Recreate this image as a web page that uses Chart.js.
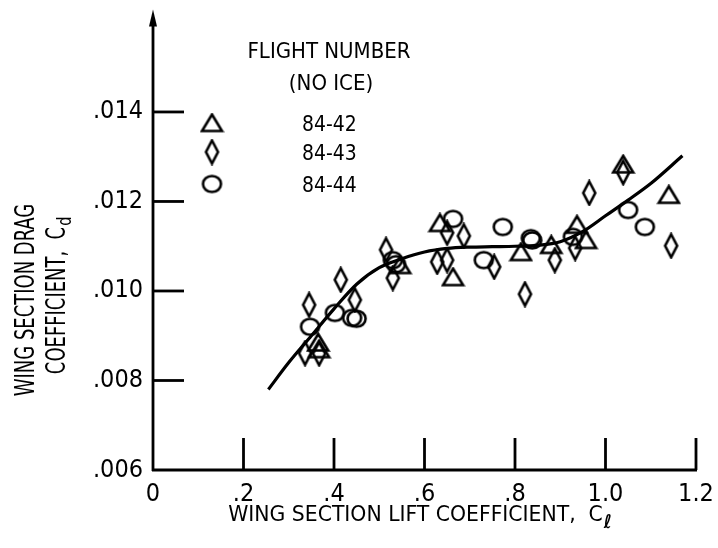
<!DOCTYPE html>
<html>
<head>
<meta charset="utf-8">
<script src="https://cdn.jsdelivr.net/npm/chart.js@4/dist/chart.umd.min.js"></script>
<style>
  html, body { margin: 0; padding: 0; background: #fff; }
  #wrap { width: 718px; height: 548px; position: relative; }
</style>
</head>
<body>
<div id="wrap"><canvas id="c" width="718" height="548"></canvas></div>
<script>
// ---- data ----
const xTicks = [0, 0.2, 0.4, 0.6, 0.8, 1.0, 1.2];
const xTickLabels = ["0", ".2", ".4", ".6", ".8", "1.0", "1.2"];
const yTicks = [0.006, 0.008, 0.010, 0.012, 0.014];
const yTickLabels = [".006", ".008", ".010", ".012", ".014"];

const legendTitle = ["FLIGHT NUMBER", "(NO ICE)"];
const flightNames = ["84-42", "84-43", "84-44"];

// Flight 84-42 (triangles)
const f42_cl = [0.365, 0.367, 0.546, 0.634, 0.663, 0.813, 0.880, 0.937, 0.957, 1.039, 1.140];
const f42_cd = [0.00885, 0.00870, 0.01058, 0.01152, 0.01031, 0.01087, 0.01103, 0.01148, 0.01114, 0.01283, 0.01215];

// Flight 84-43 (diamonds)
const f43_cl = [0.336, 0.345, 0.367, 0.415, 0.446, 0.515, 0.530, 0.628, 0.650, 0.650, 0.687, 0.754, 0.822, 0.888, 0.933, 0.964, 1.039, 1.145];
const f43_cd = [0.00861, 0.00969, 0.00860, 0.01025, 0.00980, 0.01092, 0.01029, 0.01065, 0.01069, 0.01130, 0.01123, 0.01054, 0.00993, 0.01069, 0.01096, 0.01219, 0.01265, 0.01101];

// Flight 84-44 (circles)
const f44_cl = [0.347, 0.402, 0.440, 0.450, 0.530, 0.537, 0.663, 0.731, 0.773, 0.835, 0.838, 0.928, 1.050, 1.087];
const f44_cd = [0.00920, 0.00951, 0.00940, 0.00938, 0.01069, 0.01060, 0.01161, 0.01069, 0.01143, 0.01118, 0.01113, 0.01121, 0.01181, 0.01143];

// Faired curve
const fit_cl = [0.255, 0.30, 0.35, 0.40, 0.45, 0.50, 0.55, 0.60, 0.65, 0.70, 0.75, 0.80, 0.85, 0.90, 0.95, 1.00, 1.05, 1.10, 1.17];
const fit_cd = [0.00780, 0.00840, 0.00900, 0.00960, 0.01015, 0.01052, 0.01072, 0.01087, 0.01095, 0.01098, 0.01099, 0.01100, 0.01102, 0.01110, 0.01133, 0.01168, 0.01203, 0.01240, 0.01302];

// ---- helpers ----
const zip = (xs, ys) => xs.map((x, i) => ({x: x, y: ys[i]}));
const FONT = "'DejaVu Sans Condensed', 'Liberation Sans Narrow', sans-serif";
const LW = 2.6;

function makeMarker(kind) {
  const c = document.createElement('canvas');
  let w, h;
  if (kind === 'tri') { w = 25; h = 21; }
  else if (kind === 'dia') { w = 17; h = 27; }
  else { w = 23; h = 21; }
  c.width = w; c.height = h;
  const g = c.getContext('2d');
  g.strokeStyle = '#000'; g.lineWidth = LW; g.lineJoin = 'miter';
  g.beginPath();
  if (kind === 'tri') {
    g.moveTo(w / 2, 2); g.lineTo(w - 2.5, h - 2.5); g.lineTo(2.5, h - 2.5); g.closePath();
  } else if (kind === 'dia') {
    g.moveTo(w / 2, 2); g.lineTo(w - 2.5, h / 2); g.lineTo(w / 2, h - 2); g.lineTo(2.5, h / 2); g.closePath();
  } else {
    g.ellipse(w / 2, h / 2, w / 2 - 2.5, h / 2 - 2.5, 0, 0, Math.PI * 2);
  }
  g.stroke();
  return c;
}
const mTri = makeMarker('tri');
const mDia = makeMarker('dia');
const mCir = makeMarker('cir');

function text(ctx, str, x, y, font, align, sx) {
  ctx.save();
  ctx.font = font;
  ctx.translate(x, y);
  ctx.scale(sx || 1, 1);
  ctx.textAlign = align || 'left';
  ctx.fillText(str, 0, 0);
  const w = ctx.measureText(str).width * (sx || 1);
  ctx.restore();
  return w;
}

// ---- custom drawing: axes, ticks, arrow, titles, legend ----
const decor = {
  id: 'decor',
  afterDraw(chart) {
    const ctx = chart.ctx;
    const xs = chart.scales.x, ys = chart.scales.y;
    const x0 = xs.getPixelForValue(0);
    const y0 = ys.getPixelForValue(0.006);
    const top = ys.getPixelForValue(0.0162) - 4;
    ctx.save();
    ctx.strokeStyle = '#000'; ctx.fillStyle = '#000';
    ctx.lineWidth = 2.8; ctx.lineCap = 'butt';
    // y axis with arrow
    ctx.beginPath(); ctx.moveTo(x0, y0 + 1); ctx.lineTo(x0, top + 12); ctx.stroke();
    ctx.beginPath(); ctx.moveTo(x0, top); ctx.lineTo(x0 + 4, top + 17); ctx.lineTo(x0 - 4, top + 17); ctx.closePath(); ctx.fill();
    // x axis
    ctx.beginPath(); ctx.moveTo(x0 - 1, y0); ctx.lineTo(xs.getPixelForValue(1.2) + 1, y0); ctx.stroke();
    // y ticks (inward)
    yTicks.slice(1).forEach(v => {
      const p = ys.getPixelForValue(v);
      ctx.beginPath(); ctx.moveTo(x0, p); ctx.lineTo(x0 + 31, p); ctx.stroke();
    });
    // x ticks (inward)
    xTicks.slice(1).forEach(v => {
      const p = xs.getPixelForValue(v);
      ctx.beginPath(); ctx.moveTo(p, y0); ctx.lineTo(p, y0 - 32); ctx.stroke();
    });

    ctx.textBaseline = 'alphabetic';
    // x axis title
    const xt = 'WING SECTION LIFT COEFFICIENT,  C';
    ctx.font = '22px ' + FONT;
    const xtw = ctx.measureText(xt).width * 1.03;
    const xtx = 420 - (xtw + 9) / 2;
    text(ctx, xt, xtx, 521, '22px ' + FONT, 'left', 1.03);
    text(ctx, '\u2113', xtx + xtw + 1, 528, 'italic bold 19px ' + FONT, 'left', 1);

    // y axis title (rotated, two lines)
    ctx.save();
    ctx.translate(34, 300);
    ctx.rotate(-Math.PI / 2);
    text(ctx, 'WING SECTION DRAG', 0, 0, '27px ' + FONT, 'center', 0.74);
    ctx.restore();
    ctx.save();
    ctx.translate(65, 296);
    ctx.rotate(-Math.PI / 2);
    ctx.font = '27px ' + FONT;
    const yt = 'COEFFICIENT,  C';
    const ytw = ctx.measureText(yt).width * 0.74;
    const ytx = -(ytw + 9) / 2;
    text(ctx, yt, ytx, 0, '27px ' + FONT, 'left', 0.74);
    text(ctx, 'd', ytx + ytw + 1, 6, '19px ' + FONT, 'left', 0.85);
    ctx.restore();

    // legend
    text(ctx, legendTitle[0], 329, 58, '22px ' + FONT, 'center', 1);
    text(ctx, legendTitle[1], 331, 90, '22px ' + FONT, 'center', 1);
    const marks = [mTri, mDia, mCir];
    const ly = [123, 152, 184];
    flightNames.forEach((n, i) => {
      const m = marks[i];
      ctx.drawImage(m, 212 - m.width / 2, ly[i] - m.height / 2);
      text(ctx, n, 302, ly[i] + 8, '22px ' + FONT, 'left', 0.95);
    });
    ctx.restore();
  }
};

const layoutPadding = { top: 13.5, right: 22, left: 0, bottom: 0 };

const chart = new Chart(document.getElementById('c'), {
  type: 'scatter',
  data: {
    datasets: [
      { label: 'curve', data: zip(fit_cl, fit_cd), showLine: true, borderColor: '#000', borderWidth: 3.2,
        pointRadius: 0, cubicInterpolationMode: 'monotone', fill: false },
      { label: flightNames[0], data: zip(f42_cl, f42_cd), pointStyle: mTri, showLine: false },
      { label: flightNames[1], data: zip(f43_cl, f43_cd), pointStyle: mDia, showLine: false },
      { label: flightNames[2], data: zip(f44_cl, f44_cd), pointStyle: mCir, showLine: false }
    ]
  },
  options: {
    responsive: false,
    animation: false,
    devicePixelRatio: 1,
    layout: { padding: layoutPadding },
    plugins: { legend: { display: false }, tooltip: { enabled: false }, title: { display: false } },
    scales: {
      x: {
        type: 'linear', min: 0, max: 1.2,
        grid: { display: false, drawTicks: false },
        border: { display: false },
        afterBuildTicks: s => { s.ticks = xTicks.map(v => ({value: v})); },
        afterFit: s => { s.height = 78; s.paddingLeft = 0; s.paddingRight = 0; },
        ticks: {
          padding: 9, color: '#000', maxRotation: 0, autoSkip: false,
          font: { family: FONT, size: 25 },
          callback: (v) => { const i = xTicks.findIndex(t => Math.abs(t - v) < 1e-9); return i >= 0 ? xTickLabels[i] : ''; }
        }
      },
      y: {
        type: 'linear', min: 0.006, max: 0.0162,
        grid: { display: false, drawTicks: false },
        border: { display: false },
        afterBuildTicks: s => { s.ticks = yTicks.map(v => ({value: v})); },
        afterFit: s => { s.width = 153; s.paddingTop = 0; s.paddingBottom = 0; },
        ticks: {
          padding: 10, color: '#000', autoSkip: false,
          font: { family: FONT, size: 25 },
          callback: (v) => { const i = yTicks.findIndex(t => Math.abs(t - v) < 1e-9); return i >= 0 ? yTickLabels[i] : ''; }
        }
      }
    }
  },
  plugins: [decor]
});
</script>
</body>
</html>
